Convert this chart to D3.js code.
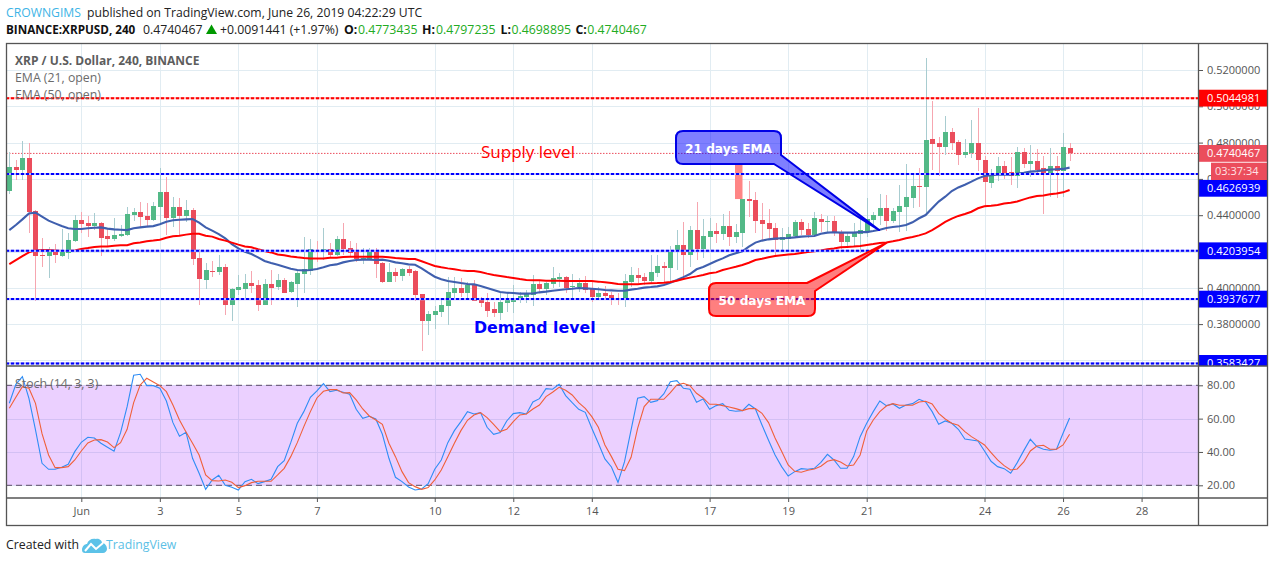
<!DOCTYPE html>
<html>
<head>
<meta charset="utf-8">
<script src="https://cdn.jsdelivr.net/npm/d3@7"></script>
<style>
  html, body { margin: 0; padding: 0; background: #fff; overflow: hidden; }
  text { font-family: "Open Sans", sans-serif; }
  .axis path { display: none; }
  .axis line { stroke: #555; }
  .axis text { fill: #555; font-size: 11px; font-family: "Open Sans", sans-serif; }
</style>
</head>
<body>
<div id="chart"></div>
<script>
// === values ===
const opens = [
  .4535,.4666,.4649,.4715,.4423,.4181,.4175,.4208,.4175,.4194,
  .4260,.4374,.4357,.4340,.4357,.4285,.4269,.4285,.4291,.4401,
  .4418,.4396,.4374,.4445,.4528,.4386,.4447,.4396,.4429,.4164,
  .4043,.4093,.4087,.4115,.3905,.3988,.3993,.4026,.4015,.3905,
  .4021,.4004,.4043,.3977,.4021,.4076,.4091,.4208,.4195,.4214,
  .4181,.4269,.4219,.4203,.4157,.4157,.4208,.4137,.4032,.4087,
  .4065,.4103,.4093,.3966,.3817,.3850,.3867,.3900,.3971,.3999,
  .3971,.4015,.3938,.3922,.3883,.3861,.3916,.3922,.3933,.3949,
  .3960,.4021,.3993,.4021,.4048,.4059,.4004,.4004,.4026,.3993,
  .3949,.3971,.3960,.3944,.3938,.4032,.4071,.4059,.4037,.4082,
  .4120,.4109,.4203,.4236,.4181,.4318,.4214,.4280,.4313,.4296,
  .4340,.4280,.4304,.4489,.4484,.4374,.4357,.4329,.4263,.4269,
  .4285,.4363,.4324,.4291,.4379,.4363,.4368,.4307,.4252,.4280,
  .4296,.4307,.4374,.4396,.4440,.4368,.4418,.4445,.4495,.4561,
  .4555,.4820,.4798,.4776,.4858,.4803,.4732,.4743,.4798,.4704,
  .4577,.4621,.4671,.4638,.4616,.4748,.4682,.4699,.4660,.4632,
  .4671,.4644,.4773
];
const closes = [
  .4666,.4649,.4715,.4419,.4175,.4175,.4208,.4181,.4195,.4263,
  .4374,.4351,.4342,.4357,.4274,.4269,.4291,.4296,.4407,.4419,
  .4390,.4374,.4451,.4528,.4386,.4447,.4396,.4429,.4159,.4048,
  .4098,.4087,.4115,.3905,.3993,.4004,.4026,.4010,.3905,.4021,
  .3999,.4043,.3971,.4032,.4082,.4102,.4214,.4197,.4214,.4181,
  .4269,.4214,.4192,.4157,.4164,.4208,.4131,.4032,.4087,.4065,
  .4103,.4082,.3960,.3817,.3856,.3872,.3905,.3977,.3999,.3971,
  .4015,.3927,.3916,.3872,.3861,.3922,.3933,.3938,.3955,.3966,
  .4021,.3993,.4026,.4054,.4059,.3999,.4010,.4026,.3988,.3949,
  .3971,.3955,.3938,.3938,.4037,.4071,.4054,.4037,.4087,.4120,
  .4109,.4208,.4236,.4181,.4318,.4214,.4285,.4313,.4296,.4340,
  .4280,.4307,.4489,.4478,.4368,.4351,.4324,.4263,.4280,.4296,
  .4363,.4318,.4291,.4385,.4363,.4368,.4302,.4252,.4285,.4302,
  .4318,.4379,.4401,.4440,.4368,.4423,.4451,.4500,.4561,.4555,
  .4814,.4792,.4776,.4858,.4798,.4732,.4748,.4798,.4704,.4583,
  .4627,.4671,.4632,.4616,.4748,.4682,.4699,.4649,.4632,.4671,
  .4644,.4776,.4740
];
const highs = [
  .4748,.4704,.4809,.4798,.4430,.4273,.4223,.4241,.4322,.4300,
  .4401,.4419,.4396,.4410,.4364,.4322,.4386,.4346,.4443,.4438,
  .4471,.4469,.4475,.4660,.4609,.4498,.4493,.4484,.4441,.4212,
  .4135,.4148,.4181,.4129,.3997,.4071,.4076,.4093,.4043,.4048,
  .4098,.4076,.4052,.4037,.4098,.4282,.4269,.4260,.4328,.4249,
  .4285,.4359,.4260,.4245,.4217,.4217,.4217,.4140,.4138,.4107,
  .4107,.4120,.4098,.3968,.3872,.3900,.3933,.4058,.4061,.4056,
  .4034,.4043,.3951,.3969,.3924,.3973,.3969,.4015,.3979,.3988,
  .4071,.4043,.4034,.4116,.4080,.4065,.4076,.4052,.4065,.4034,
  .4006,.4010,.3979,.3973,.4076,.4113,.4111,.4080,.4181,.4181,
  .4144,.4230,.4318,.4364,.4340,.4471,.4377,.4383,.4355,.4407,
  .4423,.4351,.4489,.4588,.4526,.4465,.4434,.4355,.4328,.4337,
  .4374,.4377,.4355,.4416,.4407,.4397,.4397,.4318,.4309,.4355,
  .4383,.4493,.4419,.4517,.4511,.4438,.4566,.4682,.4621,.4660,
  .5264,.5029,.4829,.4947,.4880,.4814,.4818,.4924,.4989,.4726,
  .4654,.4719,.4699,.4722,.4778,.4768,.4787,.4765,.4726,.4768,
  .4726,.4851,.4797
];
const lows = [
  .4517,.4594,.4594,.4304,.3929,.4116,.4056,.4138,.4168,.4160,
  .4255,.4300,.4282,.4318,.4175,.4223,.4260,.4282,.4288,.4368,
  .4328,.4337,.4370,.4346,.4291,.4337,.4285,.4364,.4126,.3905,
  .3993,.4061,.4071,.3850,.3819,.3960,.3933,.3969,.3874,.3903,
  .3905,.3988,.3969,.3969,.3896,.3973,.4071,.4144,.4153,.4166,
  .4175,.4181,.4168,.4144,.4131,.4153,.4052,.4025,.4030,.4032,
  .4037,.4065,.3929,.3652,.3740,.3773,.3841,.3795,.3933,.3951,
  .3933,.3925,.3896,.3841,.3841,.3823,.3869,.3859,.3914,.3914,
  .3900,.3969,.3960,.3997,.4006,.3973,.3942,.3979,.3969,.3924,
  .3942,.3942,.3905,.3905,.3896,.4006,.4025,.4015,.4021,.4061,
  .4034,.4025,.4098,.4058,.4116,.4153,.4166,.4208,.4245,.4263,
  .4232,.4245,.4227,.4392,.4304,.4263,.4272,.4168,.4199,.4208,
  .4272,.4291,.4272,.4285,.4309,.4309,.4285,.4214,.4227,.4227,
  .4190,.4282,.4337,.4346,.4313,.4355,.4309,.4315,.4438,.4447,
  .4410,.4649,.4616,.4732,.4759,.4677,.4713,.4713,.4645,.4451,
  .4552,.4590,.4598,.4566,.4552,.4662,.4612,.4621,.4407,.4502,
  .4497,.4502,.4699
];
const ema21 = [
  .4318,.4346,.4377,.4410,.4414,.4392,.4370,.4355,.4340,.4328,
  .4324,.4324,.4328,.4331,.4333,.4326,.4322,.4320,.4318,.4328,
  .4333,.4337,.4340,.4350,.4364,.4372,.4375,.4377,.4379,.4359,
  .4333,.4315,.4296,.4273,.4241,.4217,.4199,.4186,.4168,.4148,
  .4137,.4127,.4116,.4105,.4098,.4096,.4098,.4104,.4113,.4124,
  .4129,.4140,.4148,.4153,.4155,.4155,.4153,.4155,.4149,.4140,
  .4135,.4129,.4127,.4107,.4083,.4061,.4047,.4037,.4032,.4026,
  .4021,.4019,.4010,.3999,.3988,.3977,.3973,.3971,.3968,.3968,
  .3969,.3975,.3979,.3984,.3988,.3992,.3995,.3999,.3997,.3995,
  .3992,.3988,.3986,.3984,.3984,.3990,.3995,.4001,.4004,.4008,
  .4015,.4028,.4043,.4059,.4076,.4102,.4115,.4131,.4148,.4162,
  .4179,.4190,.4201,.4227,.4249,.4260,.4267,.4271,.4273,.4274,
  .4278,.4282,.4284,.4285,.4298,.4304,.4306,.4304,.4304,.4304,
  .4307,.4307,.4313,.4320,.4329,.4335,.4339,.4346,.4361,.4383,
  .4401,.4438,.4475,.4502,.4533,.4553,.4568,.4585,.4603,.4616,
  .4621,.4623,.4623,.4623,.4629,.4634,.4640,.4643,.4647,.4651,
  .4653,.4655,.4662
];
const ema50 = [
  .4131,.4153,.4175,.4195,.4206,.4208,.4208,.4206,.4203,.4203,
  .4206,.4214,.4219,.4225,.4228,.4228,.4232,.4234,.4234,.4245,
  .4250,.4256,.4260,.4265,.4276,.4284,.4287,.4293,.4298,.4298,
  .4287,.4282,.4269,.4260,.4249,.4238,.4228,.4223,.4212,.4203,
  .4195,.4184,.4179,.4173,.4168,.4164,.4162,.4162,.4162,.4166,
  .4166,.4170,.4171,.4171,.4171,.4171,.4171,.4171,.4168,.4164,
  .4162,.4159,.4159,.4146,.4133,.4120,.4113,.4107,.4102,.4096,
  .4093,.4093,.4087,.4078,.4071,.4065,.4059,.4054,.4048,.4043,
  .4041,.4041,.4039,.4039,.4039,.4037,.4037,.4037,.4037,.4037,
  .4034,.4030,.4026,.4021,.4019,.4019,.4019,.4023,.4025,.4026,
  .4028,.4032,.4039,.4048,.4056,.4063,.4071,.4080,.4085,.4098,
  .4107,.4116,.4126,.4138,.4153,.4160,.4168,.4175,.4179,.4183,
  .4186,.4192,.4197,.4201,.4206,.4212,.4217,.4223,.4225,.4227,
  .4230,.4236,.4241,.4247,.4250,.4256,.4263,.4273,.4280,.4289,
  .4300,.4318,.4340,.4363,.4381,.4396,.4407,.4419,.4438,.4449,
  .4452,.4456,.4464,.4469,.4476,.4487,.4498,.4506,.4509,.4515,
  .4520,.4526,.4539
];
const stochK = [
  69.2,80.6,85.2,72.2,53.2,33.2,29.6,29.6,30.8,32.6,
  40.2,45.8,48.8,48.4,45.2,42.8,40.4,51.6,67.2,86,
  86.6,79.8,79.8,78.2,70.6,57.6,49.4,51.8,36.2,27.2,
  17.6,23.2,26,20,18.8,17.2,22.2,23.6,21,22.2,
  23.6,31.2,34.8,45.6,57.2,64.2,72.8,76.6,81,76.2,
  77,75.8,74.6,65.6,60.2,61.4,59.8,50.6,36.2,24.8,
  22.2,19,17.2,17.8,21,29.6,35.2,45.6,52.8,58.2,
  64.2,62.8,63.6,54.8,50.6,51.6,58.6,63,63.6,62.8,
  70,72,78,77.6,80.6,73.8,69.6,65.6,63.8,54.2,
  45.2,35.8,31,21.8,34.2,53.2,72.2,73.2,69.8,70.8,
  74.8,82.2,82.8,78.2,77.6,69.8,71.8,65.6,67.8,69,
  65,64.4,64.8,68.6,65.8,56.2,47,38.2,31.2,25.6,
  28.2,30,29.6,30.2,33.8,38.6,35.2,30.2,30.2,37.2,
  49.2,57.2,64.2,70.6,67.8,68.8,66.2,68.2,69,71.6,
  70,64.2,56.6,58.6,57.2,53.6,47.8,47.2,46.6,40.6,
  34.4,31.2,30,27.2,33.6,40.8,47.6,43.2,41.6,41,
  41.6,51.2,60.4
];
const stochD = [
  66.2,72.8,79.2,78.2,69.2,51,38.2,30.6,30.6,31.2,
  35.2,40.6,45.4,47.2,47.4,46,42.6,45.6,53.6,69.6,
  80.2,84.2,82,79.8,76.2,68.2,59.2,52,45.2,38.2,
  26.2,22.8,22.6,23.2,21.8,18.6,19.8,21.6,22.4,22.4,
  22.4,26.2,30.2,37.2,45.6,55.2,64.2,72.4,76.4,77.4,
  77.4,75.4,75.6,71.2,65.8,61.6,59.2,56.6,45.2,37.2,
  28.2,21.6,19.2,17.6,18.6,23.2,29.2,37.2,45.2,52.8,
  59,62.2,63.6,60.6,56.6,52.2,53.6,58.2,62.2,62.8,
  65.8,68.2,73.2,75.8,78.8,77,74.2,69.6,66.2,61.2,
  54.8,44.2,37.2,29.6,28.8,36.8,54.2,67.2,71.6,71.6,
  71.6,75.6,80.2,81.2,79.8,75.2,72.4,68.6,68.6,67.8,
  67,66,64.8,66,66,63.2,57.6,48.4,40.4,32.2,
  28.4,27.8,29,29.8,31.4,34.4,35.4,34,31.6,32.2,
  38.2,52.6,59.2,64.2,67.6,69,68,68,68,70,
  70.4,68.8,63.2,59.8,57.2,56,52.2,49.2,46.8,44.2,
  39.6,35.2,31.8,29.2,29.8,34,40.6,43.6,44,41.6,
  41.6,44.2,50.6
];
const priceTicks = [0.52, 0.5, 0.48, 0.46, 0.44, 0.42, 0.4, 0.38, 0.36];
const stochTicks = [80, 60, 40, 20];
const timeTicks = [
  "2019-06-01","2019-06-03","2019-06-05","2019-06-07","2019-06-10","2019-06-12","2019-06-14",
  "2019-06-17","2019-06-19","2019-06-21","2019-06-24","2019-06-26","2019-06-28"
];
const timeLabels = ["Jun","3","5","7","10","12","14","17","19","21","24","26","28"];
const blueLevels = [0.4626939, 0.4203954, 0.3937677, 0.3583427];
const redLevel = 0.5044981;
const lastPrice = 0.4740467;

// ---- layout ----
const width = 1274, height = 562;
const paneLeft = 6, paneRight = 1198, frameRight = 1267, paneTop = 43, paneBottom = 366, stochBottom = 498, frameBottom = 525;

const candleStart = Date.UTC(2019, 4, 30, 4);
const barHours = 4 * 3600 * 1000;
const barTime = (k) => new Date(candleStart + k * barHours);

const x = d3.scaleUtc()
  .domain([new Date(Date.UTC(2019, 5, 1)), new Date(Date.UTC(2019, 5, 26))])
  .range([81.3, 1063.05]);
const y = d3.scaleLinear().domain([0.52, 0.36]).range([70, 360.4]);
const yStoch = d3.scaleLinear().domain([80, 20]).range([385.3, 485.3]);

const svg = d3.select("#chart").append("svg").attr("width", width).attr("height", height)
  .style("display", "block");

const defs = svg.append("defs");
defs.append("clipPath").attr("id", "mainClip").append("rect")
  .attr("x", paneLeft + 1).attr("y", paneTop).attr("width", paneRight - paneLeft - 1).attr("height", paneBottom - paneTop);
defs.append("clipPath").attr("id", "stochClip").append("rect")
  .attr("x", paneLeft + 1).attr("y", paneBottom).attr("width", paneRight - paneLeft - 1).attr("height", stochBottom - paneBottom);
defs.append("clipPath").attr("id", "scaleClip").append("rect")
  .attr("x", paneRight).attr("y", paneTop).attr("width", frameRight - paneRight).attr("height", paneBottom - paneTop);

// ---- header ----
const green = "#22ab22";
const header = svg.append("g").style("font-size", "12.2px");
header.append("text").attr("x", 6).attr("y", 17).attr("fill", "#3db4e6").text("CROWNGIMS");
header.append("text").attr("x", 87).attr("y", 17).attr("fill", "#222").text("published on TradingView.com, June 26, 2019 04:22:29 UTC");

const infoLine = [
  [6, "BINANCE:XRPUSD, 240", "#111", 700, 11.7],
  [143, "0.4740467", "#222", 400, 12.3],
  [220, "+0.0091441 (+1.97%)", "#222", 400, 12.3],
  [344, "O:", "#111", 700, 12.3],
  [358, "0.4773435", green, 400, 12.3],
  [422, "H:", "#111", 700, 12.3],
  [436, "0.4797235", green, 400, 12.3],
  [500.5, "L:", "#111", 700, 12.3],
  [511.5, "0.4698895", green, 400, 12.3],
  [575.5, "C:", "#111", 700, 12.3],
  [587.3, "0.4740467", green, 400, 12.3]
];
header.selectAll("text.info").data(infoLine).enter().append("text").attr("class", "info")
  .attr("x", (d) => d[0]).attr("y", 34)
  .attr("fill", (d) => d[2]).attr("font-weight", (d) => d[3]).style("font-size", (d) => d[4] + "px").text((d) => d[1]);
header.append("path").attr("d", "M206,34 L217,34 L211.5,24.5 Z").attr("fill", "#090");

// ---- grid ----
const grid = svg.append("g").attr("stroke", "#e1ecf2").attr("stroke-width", 1).attr("shape-rendering", "crispEdges");
grid.selectAll("line.h").data(priceTicks).enter().append("line").attr("class", "h")
  .attr("x1", paneLeft).attr("x2", paneRight).attr("y1", (d) => Math.round(y(d)) + 0.5).attr("y2", (d) => Math.round(y(d)) + 0.5);
grid.selectAll("line.s").data(stochTicks).enter().append("line").attr("class", "s")
  .attr("x1", paneLeft).attr("x2", paneRight).attr("y1", (d) => Math.round(yStoch(d)) + 0.5).attr("y2", (d) => Math.round(yStoch(d)) + 0.5);
grid.selectAll("line.v").data(timeTicks).enter().append("line").attr("class", "v")
  .attr("x1", (d) => Math.round(x(new Date(d))) + 0.5).attr("x2", (d) => Math.round(x(new Date(d))) + 0.5)
  .attr("y1", paneTop).attr("y2", stochBottom);

// ---- main pane ----
const main = svg.append("g").attr("clip-path", "url(#mainClip)");

main.append("line").attr("x1", paneLeft).attr("x2", paneRight)
  .attr("y1", y(lastPrice)).attr("y2", y(lastPrice))
  .attr("stroke", "#eb4d5c").attr("stroke-width", 1).attr("stroke-dasharray", "1.5 1.5");

const candles = opens.map((o, k) => ({ t: barTime(k), o, c: closes[k], h: highs[k], l: lows[k] }));
const upColor = "#53b987", downColor = "#eb4d5c";

main.append("g").attr("shape-rendering", "crispEdges").selectAll("line").data(candles).enter().append("line")
  .attr("x1", (d) => Math.round(x(d.t)) + 0.5).attr("x2", (d) => Math.round(x(d.t)) + 0.5)
  .attr("y1", (d) => y(d.h)).attr("y2", (d) => y(d.l))
  .attr("stroke", (d) => (d.c >= d.o ? "#a8ccd0" : "#f6a6b0"));

main.append("g").attr("shape-rendering", "crispEdges").selectAll("rect").data(candles).enter().append("rect")
  .attr("x", (d) => Math.round(x(d.t)) - 2).attr("width", 5)
  .attr("y", (d) => y(Math.max(d.o, d.c)))
  .attr("height", (d) => Math.max(1, Math.abs(y(d.o) - y(d.c))))
  .attr("fill", (d) => (d.c >= d.o ? upColor : downColor));

// hand drawn block next to the 21 days callout
main.append("rect").attr("x", 735).attr("y", y(0.4682)).attr("width", 7.5).attr("height", y(0.4489) - y(0.4682))
  .attr("fill", "#ff8585");

const priceLine = d3.line().x((d, k) => x(barTime(k))).y((d) => y(d));
main.append("path").datum(ema21).attr("d", priceLine).attr("fill", "none").attr("stroke", "#3f5fae").attr("stroke-width", 2.1);
main.append("path").datum(ema50).attr("d", priceLine).attr("fill", "none").attr("stroke", "#ff0000").attr("stroke-width", 2);

// drawn levels
const levels = main.append("g").attr("fill", "none");
blueLevels.forEach((p) => {
  levels.append("line").attr("x1", paneLeft).attr("x2", paneRight).attr("y1", y(p)).attr("y2", y(p))
    .attr("stroke", "#b4b4ff").attr("stroke-width", 2.2);
  levels.append("line").attr("x1", paneLeft).attr("x2", paneRight).attr("y1", y(p)).attr("y2", y(p))
    .attr("stroke", "#0000ff").attr("stroke-width", 2).attr("stroke-dasharray", "3 2");
});
levels.append("line").attr("x1", paneLeft).attr("x2", paneRight).attr("y1", y(redLevel)).attr("y2", y(redLevel))
  .attr("stroke", "#ffb4b4").attr("stroke-width", 2.2);
levels.append("line").attr("x1", paneLeft).attr("x2", paneRight).attr("y1", y(redLevel)).attr("y2", y(redLevel))
  .attr("stroke", "#ff0000").attr("stroke-width", 2).attr("stroke-dasharray", "3 2");

// callouts, tips sit on the EMA lines
function callout(x0, y0, x1, y1, r, tail, stroke, fill, label) {
  const tx = x(barTime(tail.k)), ty = y(tail.p);
  const d = tail.top
    ? `M${x0 + r},${y0} L${tail.a},${y0} L${tx},${ty} L${x1},${tail.b} L${x1},${y1 - r} Q${x1},${y1} ${x1 - r},${y1} L${x0 + r},${y1} Q${x0},${y1} ${x0},${y1 - r} L${x0},${y0 + r} Q${x0},${y0} ${x0 + r},${y0} Z`
    : `M${x0 + r},${y0} L${x1 - r},${y0} Q${x1},${y0} ${x1},${y0 + r} L${x1},${tail.a} L${tx},${ty} L${tail.b},${y1} L${x0 + r},${y1} Q${x0},${y1} ${x0},${y1 - r} L${x0},${y0 + r} Q${x0},${y0} ${x0 + r},${y0} Z`;
  main.append("path").attr("d", d).attr("fill", fill).attr("fill-opacity", 0.5)
    .attr("stroke", stroke).attr("stroke-width", 2).attr("stroke-linejoin", "round");
  main.append("text").attr("x", (x0 + x1) / 2).attr("y", (y0 + y1) / 2 + 5)
    .attr("text-anchor", "middle").attr("fill", "#fff")
    .style("font-family", "'DejaVu Sans', sans-serif").style("font-size", "12.2px").style("font-weight", 700)
    .text(label);
}
callout(676, 131, 781, 164, 7, { k: 132.9, p: 0.4318, a: 155, b: 774, top: false }, "#0000e6", "#0000ff", "21 days EMA");
callout(709, 283, 815, 316, 7, { k: 134, p: 0.4247, a: 807, b: 291, top: true }, "#ff0000", "#ff0000", "50 days EMA");

main.append("text").attr("x", 481).attr("y", 158).attr("fill", "#ff0000")
  .style("font-size", "17px").text("Supply level");
main.append("text").attr("x", 474).attr("y", 333).attr("fill", "#0000ff")
  .style("font-family", "'DejaVu Sans', sans-serif").style("font-size", "15.8px").style("font-weight", 700).text("Demand level");

// pane legends
main.append("text").attr("x", 15).attr("y", 65).attr("fill", "#5d5d5d").style("font-size", "12px").style("font-weight", 700)
  .text("XRP / U.S. Dollar, 240, BINANCE");
main.append("text").attr("x", 15).attr("y", 82).attr("fill", "#6b6b6b").style("font-size", "12.3px").text("EMA (21, open)");
main.append("text").attr("x", 15).attr("y", 99).attr("fill", "#6b6b6b").style("font-size", "12.3px").text("EMA (50, open)");

// ---- stochastic pane ----
const stoch = svg.append("g").attr("clip-path", "url(#stochClip)");
stoch.append("rect").attr("x", paneLeft).attr("width", paneRight - paneLeft)
  .attr("y", yStoch(80)).attr("height", yStoch(20) - yStoch(80))
  .attr("fill", "#9915ff").attr("fill-opacity", 0.2);
stoch.selectAll("line.band").data([80, 20]).enter().append("line").attr("class", "band")
  .attr("x1", paneLeft).attr("x2", paneRight).attr("y1", (d) => yStoch(d)).attr("y2", (d) => yStoch(d))
  .attr("stroke", "#5a4a66").attr("stroke-dasharray", "6 4");

const stochLine = d3.line().x((d, k) => x(barTime(k))).y((d) => yStoch(d));
stoch.append("path").datum(stochK).attr("d", stochLine).attr("fill", "none").attr("stroke", "#2f8df5").attr("stroke-width", 1.1);
stoch.append("path").datum(stochD).attr("d", stochLine).attr("fill", "none").attr("stroke", "#f0603a").attr("stroke-width", 1.1);
stoch.append("text").attr("x", 15).attr("y", 388).attr("fill", "#6b6b6b").style("font-size", "12.3px").text("Stoch (14, 3, 3)");

// ---- axes ----
svg.append("g").attr("class", "axis").attr("transform", `translate(${paneRight},0)`)
  .call(d3.axisRight(y).tickValues(priceTicks).tickFormat(d3.format(".7f")).tickSize(5).tickPadding(4));
svg.append("g").attr("class", "axis").attr("transform", `translate(${paneRight},0)`)
  .call(d3.axisRight(yStoch).tickValues(stochTicks).tickFormat(d3.format(".2f")).tickSize(5).tickPadding(4));
svg.append("g").attr("class", "axis").attr("transform", `translate(0,${stochBottom})`)
  .call(d3.axisBottom(x).tickValues(timeTicks.map((d) => new Date(d))).tickFormat((d, k) => timeLabels[k]).tickSize(4).tickPadding(5));

// ---- price tags ----
const tags = svg.append("g").attr("clip-path", "url(#scaleClip)");
const tagRows = [
  { p: redLevel, cy: y(redLevel), fill: "#ff0000" },
  { p: lastPrice, cy: y(lastPrice), fill: "#eb4d5c" },
  { p: blueLevels[0], cy: 188.3, fill: "#0000ff" },
  { p: blueLevels[1], cy: y(blueLevels[1]), fill: "#0000ff" },
  { p: blueLevels[2], cy: y(blueLevels[2]), fill: "#0000ff" },
  { p: blueLevels[3], cy: y(blueLevels[3]), fill: "#0000ff" }
];
tags.selectAll("rect").data(tagRows).enter().append("rect")
  .attr("x", paneRight).attr("width", frameRight - paneRight).attr("y", (d) => d.cy - 8.4).attr("height", 16.8)
  .attr("fill", (d) => d.fill);
tags.selectAll("text").data(tagRows).enter().append("text")
  .attr("x", paneRight + 9).attr("y", (d) => d.cy + 4).attr("fill", "#fff").style("font-size", "11px")
  .text((d) => d3.format(".7f")(d.p));
tags.append("rect").attr("x", 1211).attr("y", 162.7).attr("width", frameRight - 1211).attr("height", 17.3).attr("fill", "#eb4d5c");
tags.append("text").attr("x", 1215).attr("y", 175.4).attr("fill", "#ffe3e6").style("font-size", "11px").text("03:37:34");

// ---- frame ----
const frame = svg.append("g").attr("fill", "none").attr("stroke", "#555").attr("stroke-width", 1.3);
frame.append("rect").attr("x", paneLeft + 0.5).attr("y", paneTop + 0.5).attr("width", frameRight - paneLeft).attr("height", frameBottom - paneTop);
frame.selectAll("line.r").data([paneBottom, stochBottom]).enter().append("line").attr("class", "r")
  .attr("x1", paneLeft).attr("x2", frameRight).attr("y1", (d) => d).attr("y2", (d) => d);
frame.append("line").attr("x1", paneRight + 0.5).attr("x2", paneRight + 0.5).attr("y1", paneTop).attr("y2", frameBottom);

// ---- footer ----
const footer = svg.append("g").style("font-size", "12.3px");
footer.append("text").attr("x", 6).attr("y", 549).attr("fill", "#222").text("Created with");
const logo = footer.append("g").attr("transform", "translate(82,537)");
logo.append("path").attr("fill", "#5cc2e8")
  .attr("d", "M0,13 C0,9 3,7 5,7 C6,3 10,1 14,2 C16,1 20,3 20,6 C23,6 25,9 25,12 C25,14 23,16 21,16 L3,16 C1,16 0,15 0,13 Z");
logo.append("path").attr("fill", "none").attr("stroke", "#fff").attr("stroke-width", 2)
  .attr("d", "M3,14 L9,7 L14,12 L21,6");
footer.append("text").attr("x", 106).attr("y", 549).attr("fill", "#5cbfe6").text("TradingView");
</script>
</body>
</html>
